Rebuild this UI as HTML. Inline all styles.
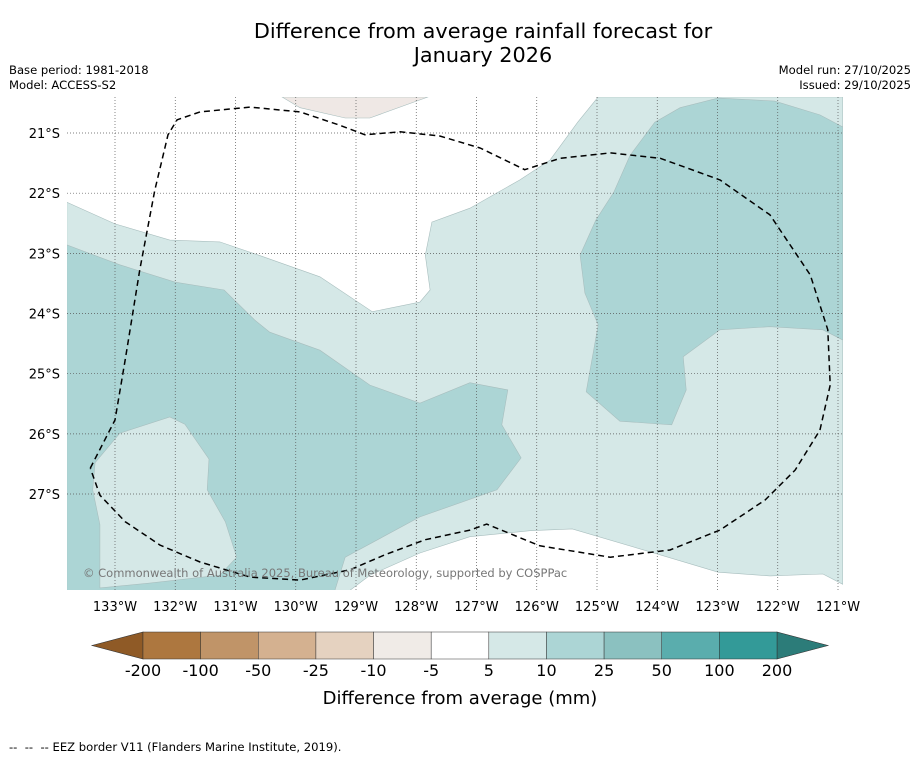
<!DOCTYPE html>
<html><head><meta charset="utf-8"><style>
body{margin:0;background:#fff;font-family:"Liberation Sans","DejaVu Sans",sans-serif;}
#wrap{position:relative;width:919px;height:758px;overflow:hidden;background:#fff;}
.t{position:absolute;white-space:nowrap;color:#000;}
</style></head><body>
<div id="wrap">
<div class="t" style="left:0;width:966px;top:19px;text-align:center;font-size:20.8px;line-height:24px;font-family:'DejaVu Sans',sans-serif;">Difference from average rainfall forecast for<br>January 2026</div>
<div class="t" style="left:9px;top:63px;font-size:11.6px;line-height:15px;font-family:'DejaVu Sans',sans-serif;">Base period: 1981-2018<br>Model: ACCESS-S2</div>
<div class="t" style="right:8px;top:63px;font-size:11.6px;line-height:15px;text-align:right;font-family:'DejaVu Sans',sans-serif;">Model run: 27/10/2025<br>Issued: 29/10/2025</div>
<svg id="map" width="919" height="758" style="position:absolute;left:0;top:0" font-family="DejaVu Sans, sans-serif"></svg>
<div class="t" style="left:9px;top:740px;font-size:11.6px;font-family:'DejaVu Sans',sans-serif;">--&nbsp; --&nbsp; -- EEZ border V11 (Flanders Marine Institute, 2019).</div>
</div>
<script>
const lonTicks=[-133,-132,-131,-130,-129,-128,-127,-126,-125,-124,-123,-122,-121];
const latTicks=[-21,-22,-23,-24,-25,-26,-27];
const lightRegion=[[-133.80,-22.15],[-133.00,-22.51],[-132.09,-22.78],[-131.26,-22.81],[-130.59,-23.04],[-129.60,-23.39],[-128.73,-23.97],[-127.94,-23.81],[-127.77,-23.61],[-127.85,-23.03],[-127.74,-22.48],[-127.11,-22.25],[-126.28,-21.78],[-125.78,-21.45],[-125.32,-20.82],[-124.98,-20.40],[-120.92,-20.40],[-120.92,-28.50],[-121.25,-28.33],[-122.13,-28.36],[-122.99,-28.30],[-124.12,-27.96],[-125.41,-27.58],[-126.11,-27.61],[-127.11,-27.71],[-127.94,-27.98],[-128.77,-28.35],[-129.10,-28.60],[-133.80,-28.60]];
const mediumLeft=[[-133.80,-22.86],[-132.92,-23.19],[-132.00,-23.48],[-131.19,-23.61],[-130.68,-24.11],[-130.43,-24.31],[-129.60,-24.61],[-128.77,-25.19],[-127.94,-25.49],[-127.11,-25.15],[-126.48,-25.27],[-126.58,-25.85],[-126.26,-26.40],[-126.66,-26.93],[-127.94,-27.38],[-129.18,-28.05],[-129.35,-28.60],[-133.80,-28.60]];
const lightIsland=[[-133.33,-26.48],[-132.92,-25.99],[-132.09,-25.72],[-131.84,-25.84],[-131.44,-26.42],[-131.47,-26.93],[-131.17,-27.46],[-130.98,-28.05],[-131.26,-28.35],[-132.42,-28.48],[-133.25,-28.56],[-133.25,-27.51],[-133.37,-26.93]];
const mediumRight=[[-124.45,-21.37],[-124.04,-20.82],[-123.62,-20.58],[-122.99,-20.42],[-122.05,-20.47],[-121.30,-20.70],[-120.92,-20.90],[-120.92,-24.44],[-121.25,-24.27],[-122.13,-24.22],[-122.96,-24.27],[-123.57,-24.72],[-123.52,-25.27],[-123.76,-25.85],[-124.62,-25.79],[-125.18,-25.30],[-124.98,-24.19],[-125.20,-23.66],[-125.28,-23.03],[-125.02,-22.45],[-124.72,-21.98]];
const brownRegion=[[-130.23,-20.40],[-129.93,-20.58],[-129.18,-20.75],[-128.77,-20.75],[-127.80,-20.40]];
const eez=[[-133.41,-26.57],[-133.00,-25.77],[-132.83,-24.77],[-132.59,-23.28],[-132.34,-21.95],[-132.12,-21.03],[-131.97,-20.78],[-131.59,-20.65],[-130.76,-20.57],[-129.93,-20.65],[-129.27,-20.87],[-128.85,-21.03],[-128.27,-20.98],[-127.61,-21.05],[-126.94,-21.25],[-126.20,-21.61],[-125.61,-21.42],[-124.78,-21.33],[-123.95,-21.42],[-122.96,-21.78],[-122.13,-22.36],[-121.46,-23.36],[-121.17,-24.27],[-121.13,-25.19],[-121.30,-25.94],[-121.71,-26.60],[-122.21,-27.10],[-122.96,-27.60],[-123.79,-27.93],[-124.78,-28.05],[-125.95,-27.86],[-126.83,-27.50],[-127.11,-27.60],[-127.85,-27.76],[-128.52,-28.01],[-129.10,-28.26],[-129.93,-28.43],[-130.76,-28.38],[-131.59,-28.13],[-132.25,-27.85],[-132.83,-27.46],[-133.25,-27.02],[-133.41,-26.57]];
const cbLabels=["-200","-100","-50","-25","-10","-5","5","10","25","50","100","200"];
const cbColors=["#ad773f","#c09468","#d4b190","#e5d2c0","#f0ebe7","#ffffff","#d5e8e7","#acd5d5","#8bc1c0","#5aadad","#339a98"];

const NS="http://www.w3.org/2000/svg";
const svg=document.getElementById('map');
const X0=67,X1=843,Y0=97,Y1=590;
const xs=lon=>115+(lon+133)*60.25;
const ys=lat=>133+(-21-lat)*60.17;
function mk(tag,attrs,parent){const e=document.createElementNS(NS,tag);for(const k in attrs)e.setAttribute(k,attrs[k]);(parent||svg).appendChild(e);return e;}
const defs=mk('defs',{});
const cp=mk('clipPath',{id:'clip'},defs);
mk('rect',{x:X0,y:Y0,width:X1-X0,height:Y1-Y0},cp);
const g=mk('g',{'clip-path':'url(#clip)'});
function pts(a){return a.map(p=>xs(p[0]).toFixed(1)+','+ys(p[1]).toFixed(1)).join(' ');}
const regions=[[lightRegion,'#d5e8e7','light-region'],[mediumLeft,'#acd5d5','medium-region-west'],[lightIsland,'#d5e8e7','light-island'],[mediumRight,'#acd5d5','medium-region-east'],[brownRegion,'#efe8e5','dry-region']];
regions.forEach(r=>{
  const p=mk('polygon',{points:pts(r[0]),fill:r[1],stroke:'#a8bebe','stroke-width':0.6},g);
  
  
});
lonTicks.forEach(l=>{
  const x=xs(l);
  const ln=mk('line',{x1:x,x2:x,y1:Y0,y2:Y1,stroke:'#555','stroke-width':0.7,'stroke-dasharray':'1,2'},g);
  
  
  const t=mk('text',{x:x,y:611,'text-anchor':'middle','font-size':13});
  t.textContent=Math.abs(l)+'°W';
  
  
});
latTicks.forEach(l=>{
  const y=ys(l);
  const ln=mk('line',{x1:X0,x2:X1,y1:y,y2:y,stroke:'#555','stroke-width':0.7,'stroke-dasharray':'1,2'},g);
  
  
  const t=mk('text',{x:60,y:y+5,'text-anchor':'end','font-size':13});
  t.textContent=Math.abs(l)+'°S';
  
  
});
const e=mk('polyline',{points:pts(eez),fill:'none',stroke:'#000','stroke-width':1.5,'stroke-dasharray':'6,4','stroke-linejoin':'round'},g);


const cr=mk('text',{x:83,y:577,'font-size':11.5,fill:'#777'});
cr.textContent='© Commonwealth of Australia 2025, Bureau of Meteorology, supported by COSPPac';


const cx0=143,cx1=777,cy0=632,cy1=659,n=cbColors.length,w=(cx1-cx0)/n;
const lt=mk('polygon',{points:`${cx0},${cy0} ${cx0},${cy1} 92,${(cy0+cy1)/2}`,fill:'#8f5a26',stroke:'#333','stroke-width':0.6});


const rt=mk('polygon',{points:`${cx1},${cy0} ${cx1},${cy1} 828,${(cy0+cy1)/2}`,fill:'#2c7c79',stroke:'#333','stroke-width':0.6});


cbColors.forEach((c,i)=>{
  const r=mk('rect',{x:cx0+i*w,y:cy0,width:w,height:cy1-cy0,fill:c,stroke:'#333','stroke-width':0.5});
  
  
});
cbLabels.forEach((s,i)=>{
  const t=mk('text',{x:cx0+i*w,y:676,'text-anchor':'middle','font-size':16});
  t.textContent=s;
  
  
});
const ct=mk('text',{x:460,y:704,'text-anchor':'middle','font-size':18});
ct.textContent='Difference from average (mm)';


</script>
</body></html>
